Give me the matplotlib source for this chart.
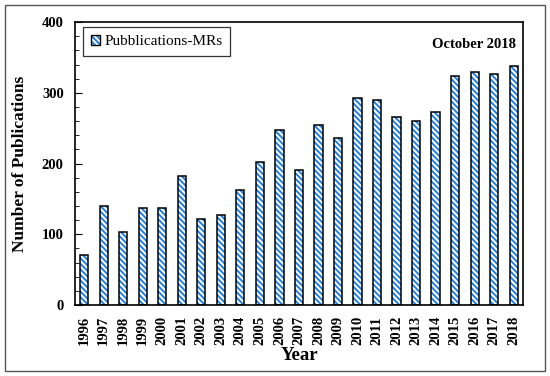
import numpy as np
import matplotlib.pyplot as plt
from matplotlib.patches import Rectangle, Patch
from matplotlib.ticker import MultipleLocator

years = [str(y) for y in range(1996, 2019)]
pubs = [71, 140, 103, 137, 137, 182, 122, 127, 162, 202, 247, 191,
        254, 236, 293, 290, 266, 260, 273, 324, 329, 327, 338]

plt.rcParams['font.family'] = ['Liberation Serif', 'DejaVu Serif']
plt.rcParams['hatch.linewidth'] = 1.4

fig = plt.figure(figsize=(5.5, 3.76), dpi=100)
ax = fig.add_axes([0.136, 0.189, 0.815, 0.752])

x = np.arange(len(years))
# hatch in blue, outline in black
ax.bar(x, pubs, width=0.42, color='white', edgecolor='#1f7fe0', hatch='\\' * 6, linewidth=0)
ax.bar(x, pubs, width=0.42, fill=False, edgecolor='black', linewidth=1.1)

ax.set_xlim(-0.48, 22.48)
ax.set_ylim(0, 400)
ax.set_xticks(x)
ax.set_xticklabels(years, rotation=90, fontweight='bold', fontsize=10.5)
ax.tick_params(axis='x', length=0, pad=8)
ax.yaxis.set_major_locator(MultipleLocator(100))
ax.yaxis.set_minor_locator(MultipleLocator(20))
ax.tick_params(axis='y', which='major', direction='in', length=5, labelsize=10.5, pad=8)
ax.tick_params(axis='y', which='minor', direction='in', length=3)
for lab in ax.get_yticklabels():
    lab.set_fontweight('bold')
for s in ax.spines.values():
    s.set_linewidth(1.2)

ax.set_xlabel('Year', fontweight='bold', fontsize=13.5, labelpad=1)
ax.set_ylabel('Number of Publications', fontweight='bold', fontsize=12.5, labelpad=10)

ax.text(0.985, 0.92, 'October 2018', transform=ax.transAxes, ha='right', va='center',
        fontweight='bold', fontsize=10.5)

handle = (Patch(facecolor='white', edgecolor='#1f7fe0', hatch='\\' * 6, linewidth=0),
          Patch(fill=False, edgecolor='black', linewidth=1.0))
leg = ax.legend([handle], ['Pubblications-MRs'], loc='upper left', bbox_to_anchor=(0.018, 0.982),
                fancybox=False, edgecolor='black', fontsize=11, handlelength=0.6,
                handleheight=0.6, borderpad=0.5, handletextpad=0.3, borderaxespad=0)
leg.get_frame().set_linewidth(0.9)

fig.patches.append(Rectangle((0.009, 0.012), 0.982, 0.976, transform=fig.transFigure,
                             fill=False, edgecolor='#555555', linewidth=1.0))

fig.savefig('out.png', dpi=100)
